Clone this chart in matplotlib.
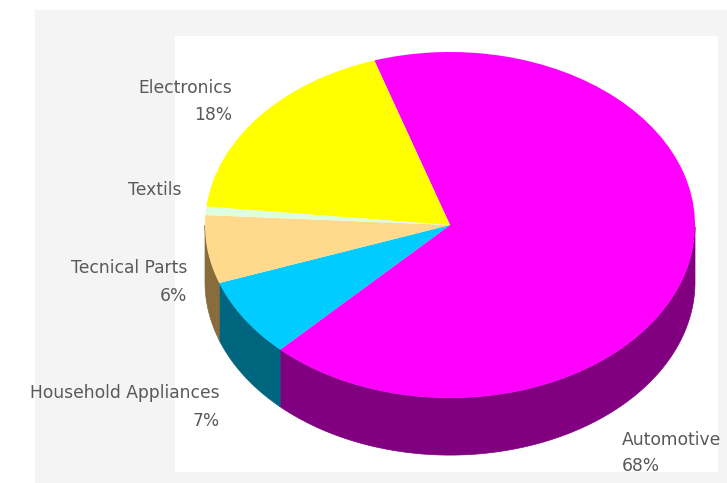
import numpy as np
import matplotlib
matplotlib.use("Agg")
import matplotlib.pyplot as plt
from matplotlib.patches import Rectangle, Polygon

# Data (clockwise order starting at the top)
categories = ["Automotive", "Household Appliances", "Tecnical Parts", "Textils", "Electronics"]
values = [67.6, 7.4, 6.4, 0.8, 18.4]
show_pct = [True, True, True, False, True]
top_colors = ["#ff00ff", "#00ccff", "#ffd98c", "#ddffdd", "#ffff00"]
side_colors = ["#800080", "#006680", "#886c3c", "#6f806f", "#808000"]

START = 108.0
DEPTH = 0.33

W, H = 727, 483
CX, CY, RX, RY = 450, 225, 245, 173
fig = plt.figure(figsize=(W / 100, H / 100), dpi=100)
fig.patch.set_facecolor("white")

bg = fig.add_axes([0, 0, 1, 1], zorder=0)
bg.set_xlim(0, W)
bg.set_ylim(H, 0)
bg.axis("off")
bg.add_patch(Rectangle((35, 10), W - 35, H - 10, facecolor="#f4f4f4", edgecolor="none"))
bg.add_patch(Rectangle((175, 36), 718 - 175, 472 - 36, facecolor="white", edgecolor="none"))

ax = fig.add_axes([0, 0, 1, 1], zorder=1)
ax.patch.set_alpha(0)

# side walls (front half only)
total = float(sum(values))
ang = START
for v, sc in zip(values, side_colors):
    a0 = ang
    a1 = ang - v / total * 360.0
    ang = a1
    tt = np.linspace(np.radians(a1), np.radians(a0), 400)
    mask = np.sin(tt) <= 0
    if mask.sum() < 2:
        continue
    tt = tt[mask]
    xs = np.cos(tt)
    ys = np.sin(tt)
    poly = np.concatenate([np.column_stack([xs, ys]),
                           np.column_stack([xs[::-1], ys[::-1] - DEPTH])])
    ax.add_patch(Polygon(poly, closed=True, facecolor=sc, edgecolor=sc, lw=0.5, zorder=1))

wedges, _ = ax.pie(values, colors=top_colors, startangle=START, counterclock=False,
                   wedgeprops=dict(linewidth=0))
for w in wedges:
    w.set_zorder(2)

ax.set_aspect("auto")
ax.set_xlim((0 - CX) / RX, (W - CX) / RX)
ax.set_ylim(-(H - CY) / RY, CY / RY)
ax.axis("off")

# label anchor positions in pixels: (x, y_name, y_pct, ha)
label_px = {
    "Electronics": (232, 88, 115, "right"),
    "Textils": (181, 190, None, "right"),
    "Tecnical Parts": (187, 268, 296, "right"),
    "Household Appliances": (220, 393, 421, "right"),
    "Automotive": (622, 440, 466, "left"),
}
tc = "#595959"
fs = 12.3
for cat, v, sp in zip(categories, values, show_pct):
    px, yn, yp, ha = label_px[cat]
    x = (px - CX) / RX
    ax.text(x, (CY - yn) / RY, cat, ha=ha, va="center", color=tc, fontsize=fs,
            family="DejaVu Sans")
    if sp and yp is not None:
        ax.text(x, (CY - yp) / RY, f"{v:.0f}%", ha=ha, va="center", color=tc,
                fontsize=fs, family="DejaVu Sans")

fig.savefig("out.png", dpi=100)
